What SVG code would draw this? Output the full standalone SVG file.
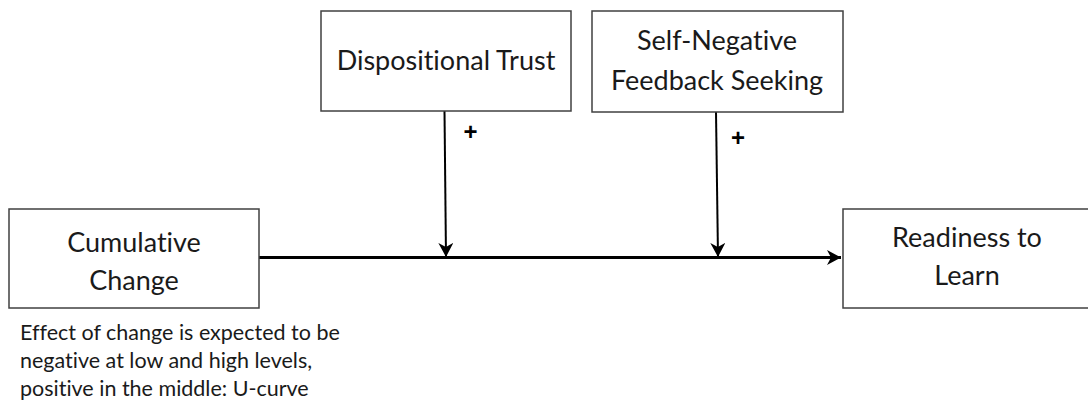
<svg xmlns="http://www.w3.org/2000/svg" width="1088" height="407" viewBox="0 0 1088 407">
<style>
.box{fill:#fff;stroke:#404040;stroke-width:1.5}
.lbl{font-family:Lato,"Liberation Sans",Arial,sans-serif;font-size:27px;fill:#1a1a1a;text-anchor:middle;font-variant-ligatures:none}
.note{font-family:Lato,"Liberation Sans",Arial,sans-serif;font-size:21.5px;fill:#1a1a1a;font-variant-ligatures:none}
.plus{font-family:"Liberation Sans",Arial,sans-serif;font-size:24px;font-weight:bold;fill:#000;text-anchor:middle}
.conn{stroke:#000;fill:none}
</style>
<defs>
<marker id="arr" markerUnits="userSpaceOnUse" viewBox="0 0 14 15" markerWidth="14" markerHeight="15" refX="14" refY="7.5" orient="auto">
<path d="M0,0 L14,7.5 L0,15 L4,7.5 z" fill="#000"/>
</marker>
</defs>
<rect width="1088" height="407" fill="#fff"/>
<g id="connectors">
<line class="conn" x1="259" y1="257.5" x2="841" y2="257.5" stroke-width="3" marker-end="url(#arr)"/>
<line class="conn" x1="444.5" y1="111" x2="446" y2="257" stroke-width="2" marker-end="url(#arr)"/>
<line class="conn" x1="716" y1="112" x2="718" y2="257" stroke-width="2" marker-end="url(#arr)"/>
<text class="plus" x="470.5" y="139.5">+</text>
<text class="plus" x="738" y="145.5">+</text>
</g>
<g id="dispositional-trust">
<rect class="box" x="321" y="11" width="250" height="100"/>
<text class="lbl" x="446" y="70">Dispositional Trust</text>
</g>
<g id="self-negative-feedback-seeking">
<rect class="box" x="592" y="11" width="251" height="101"/>
<text class="lbl" x="717" y="50">Self-Negative</text>
<text class="lbl" x="717" y="90">Feedback Seeking</text>
</g>
<g id="cumulative-change">
<rect class="box" x="9" y="209" width="250" height="99"/>
<text class="lbl" x="134" y="252">Cumulative</text>
<text class="lbl" x="134" y="290">Change</text>
</g>
<g id="readiness-to-learn">
<rect class="box" x="843" y="209" width="252" height="99"/>
<text class="lbl" x="967" y="247">Readiness to</text>
<text class="lbl" x="967" y="285">Learn</text>
</g>
<g id="note">
<text class="note" x="20" y="340">Effect of change is expected to be</text>
<text class="note" x="20" y="368">negative at low and high levels,</text>
<text class="note" x="20" y="396">positive in the middle: U-curve</text>
</g>
</svg>
